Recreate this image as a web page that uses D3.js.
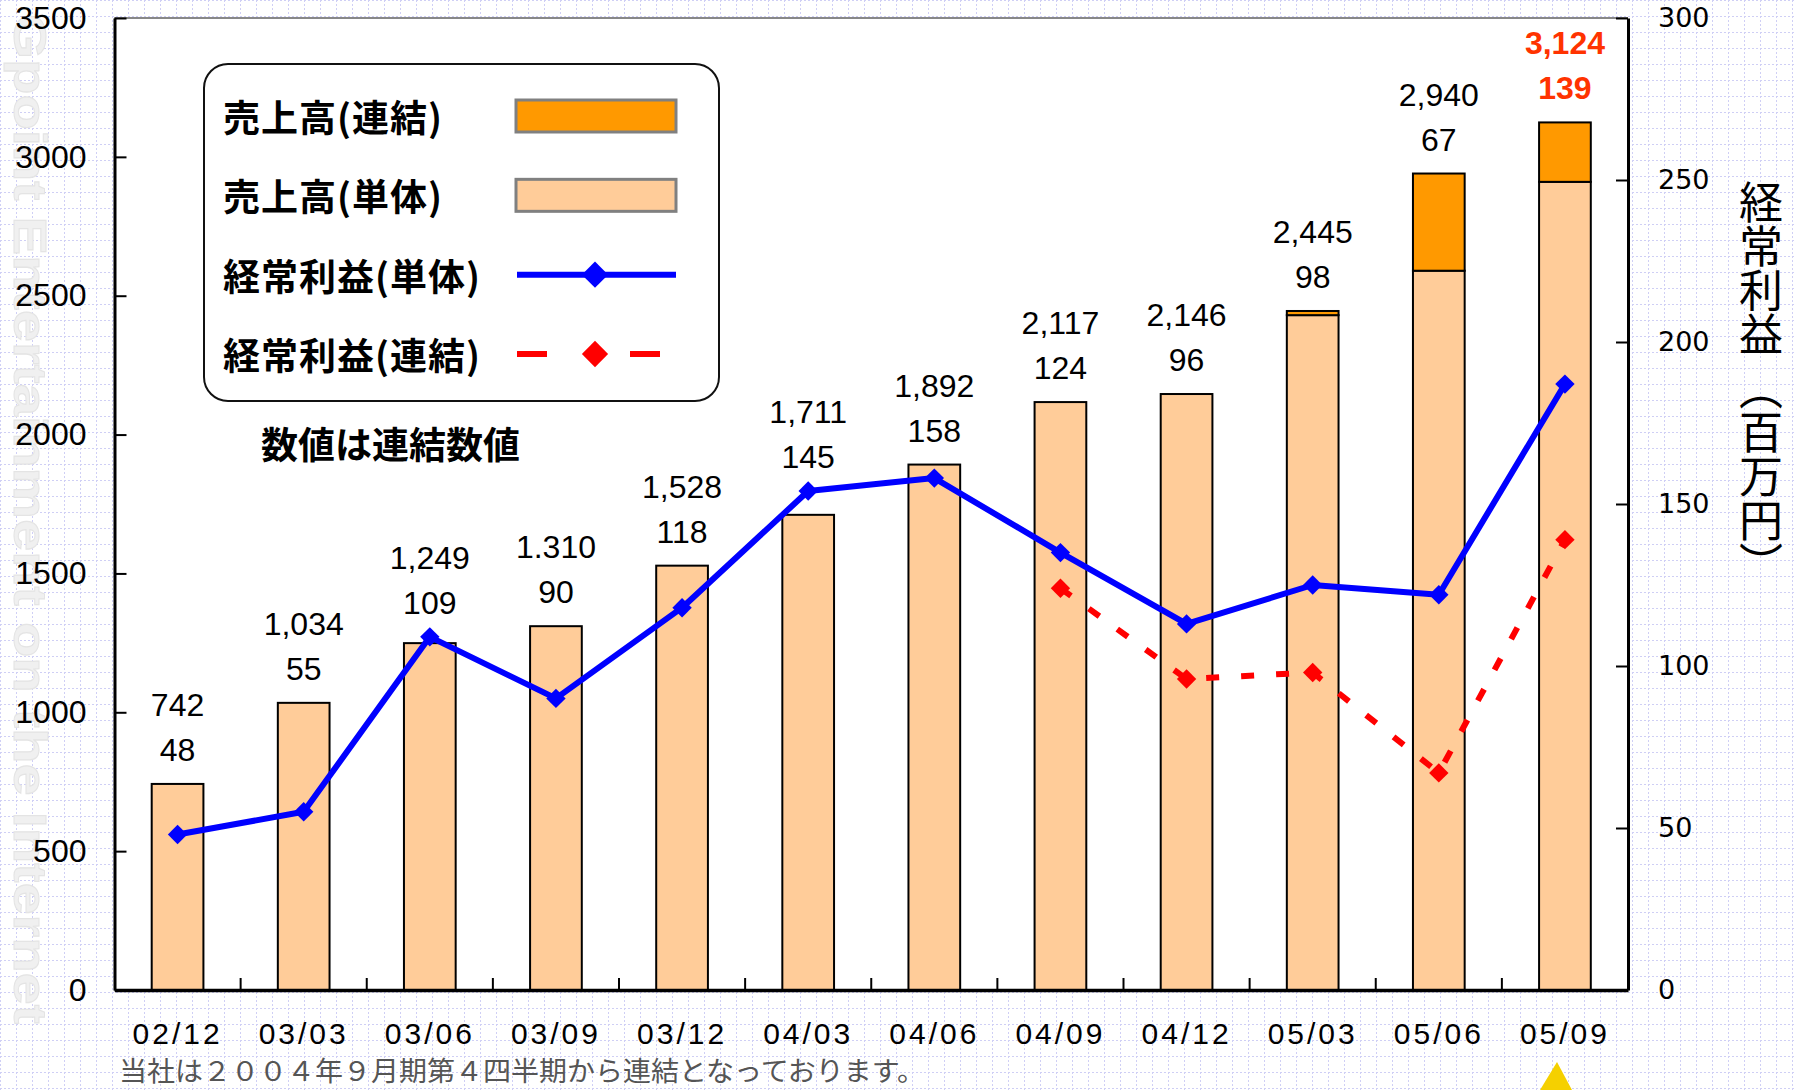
<!DOCTYPE html>
<html>
<head>
<meta charset="utf-8">
<script src="https://cdn.jsdelivr.net/npm/d3@7"></script>
<style>
  body { margin: 0; background: #fff; }
  svg { display: block; }
</style>
</head>
<body>
<svg id="chart" width="1795" height="1090"></svg>
<script>
// periods (YY/MM)
const periods = ['02/12', '03/03', '03/06', '03/09', '03/12', '04/03', '04/06', '04/09', '04/12', '05/03', '05/06', '05/09'];

// 売上高 (百万円)
const salesStandalone = [742, 1034, 1249, 1310, 1528, 1711, 1892, 2117, 2146, 2430, 2590, 2910];
const salesConsolidated = [742, 1034, 1249, 1310, 1528, 1711, 1892, 2117, 2146, 2445, 2940, 3124];

// 経常利益 (百万円)
const profitStandalone = [48, 55, 109, 90, 118, 154, 158, 135, 113, 125, 122, 187];
const profitConsolidated = [null, null, null, null, null, null, null, 124, 96, 98, 67, 139];

// labels printed above each bar
const salesLabels = ['742', '1,034', '1,249', '1.310', '1,528', '1,711', '1,892', '2,117', '2,146', '2,445', '2,940', '3,124'];
const profitLabels = ['48', '55', '109', '90', '118', '145', '158', '124', '96', '98', '67', '139'];

const leftTicks = [0, 500, 1000, 1500, 2000, 2500, 3000, 3500];
const rightTicks = [0, 50, 100, 150, 200, 250, 300];

const svg = d3.select('#chart');
const W = 1795, H = 1090;
const plot = { left: 114.5, right: 1628, top: 18, bottom: 990 };
const numFont = '"Liberation Sans", Arial, sans-serif';
const jpFont = '"Noto Sans CJK JP", sans-serif';

// background grid pattern
const defs = svg.append('defs');
const pat = defs.append('pattern')
  .attr('id', 'grid').attr('width', 16).attr('height', 16)
  .attr('patternUnits', 'userSpaceOnUse');
pat.append('rect').attr('width', 16).attr('height', 16).attr('fill', '#fff');
pat.append('path').attr('d', 'M0 0.5 H16 M0.5 0 V16')
  .attr('stroke', '#cfcff5').attr('stroke-width', 1).attr('stroke-dasharray', '2,2');
svg.append('rect').attr('width', W).attr('height', H).attr('fill', 'url(#grid)');

// faint watermark on the left
svg.append('text')
  .attr('transform', 'translate(14,14) rotate(90)')
  .attr('font-family', numFont).attr('font-weight', 'bold').attr('font-size', 46)
  .attr('textLength', 1010).attr('lengthAdjust', 'spacingAndGlyphs')
  .attr('fill', '#f0f0f0').attr('stroke', '#e4e4e4').attr('stroke-width', 1)
  .text('Gpoint Entertainment on the Internet');

// small yellow shape peeking at the bottom
svg.append('path')
  .attr('d', 'M1557,1062 L1572,1090 L1540,1090 Z')
  .attr('fill', '#F5D000');

// plot area
svg.append('rect')
  .attr('x', plot.left).attr('y', plot.top)
  .attr('width', plot.right - plot.left).attr('height', plot.bottom - plot.top)
  .attr('fill', '#fff');
svg.append('line')
  .attr('x1', plot.left).attr('x2', plot.right).attr('y1', plot.top).attr('y2', plot.top)
  .attr('stroke', '#888').attr('stroke-width', 2);

const x = d3.scaleBand().domain(periods).range([plot.left, plot.right]).padding(0);
const yL = d3.scaleLinear().domain([0, 3500]).range([plot.bottom, plot.top]);
const yR = d3.scaleLinear().domain([0, 300]).range([plot.bottom, plot.top]);
const bw = x.bandwidth() * 0.41;
const cx = p => x(p) + x.bandwidth() / 2;

// bars: standalone part, then the consolidated extra on top
const bars = svg.append('g');
bars.selectAll('.bar-base')
  .data(periods)
  .enter().append('rect')
  .attr('class', 'bar-base')
  .attr('x', p => cx(p) - bw / 2)
  .attr('width', bw)
  .attr('y', (p, i) => yL(salesStandalone[i]))
  .attr('height', (p, i) => yL(0) - yL(salesStandalone[i]))
  .attr('fill', '#FFCC99').attr('stroke', '#000').attr('stroke-width', 2);

bars.selectAll('.bar-top')
  .data(periods.filter((p, i) => salesConsolidated[i] > salesStandalone[i]))
  .enter().append('rect')
  .attr('class', 'bar-top')
  .attr('x', p => cx(p) - bw / 2)
  .attr('width', bw)
  .attr('y', p => yL(salesConsolidated[periods.indexOf(p)]))
  .attr('height', p => {
    const i = periods.indexOf(p);
    return yL(salesStandalone[i]) - yL(salesConsolidated[i]);
  })
  .attr('fill', '#FF9900').attr('stroke', '#000').attr('stroke-width', 2);

// axes
const axL = svg.append('g')
  .attr('transform', `translate(${plot.left},0)`)
  .call(d3.axisLeft(yL).tickValues(leftTicks).tickFormat(d3.format('d'))
    .tickSizeInner(-12).tickSizeOuter(0).tickPadding(28));
axL.select('.domain').attr('stroke', '#000').attr('stroke-width', 3);
axL.selectAll('.tick line').attr('stroke', '#000').attr('stroke-width', 2);
axL.selectAll('text').attr('font-family', numFont).attr('font-size', 32).attr('fill', '#000');

const axR = svg.append('g')
  .attr('transform', `translate(${plot.right},0)`)
  .call(d3.axisRight(yR).tickValues(rightTicks).tickSizeInner(-12).tickSizeOuter(0).tickPadding(30));
axR.select('.domain').attr('stroke', '#000').attr('stroke-width', 3);
axR.selectAll('.tick line').attr('stroke', '#000').attr('stroke-width', 2);
axR.selectAll('text').attr('font-family', '"DejaVu Sans", sans-serif').attr('font-size', 27).attr('fill', '#000');

const axB = svg.append('g')
  .attr('transform', `translate(0,${plot.bottom})`)
  .call(d3.axisBottom(x).tickSize(0).tickPadding(33));
axB.select('.domain').attr('stroke', '#000').attr('stroke-width', 3.5);
axB.selectAll('text').attr('font-family', numFont).attr('font-size', 30)
  .attr('letter-spacing', 3).attr('fill', '#000');

// category separator ticks
svg.append('g').selectAll('line')
  .data(periods.slice(1))
  .enter().append('line')
  .attr('x1', p => x(p)).attr('x2', p => x(p))
  .attr('y1', plot.bottom).attr('y2', plot.bottom - 12)
  .attr('stroke', '#000').attr('stroke-width', 2);

// profit lines
const diamond = d3.symbol().type(d3.symbolDiamond2);
const line = d3.line()
  .defined(d => d.v != null)
  .x(d => cx(d.p))
  .y(d => yR(d.v));

const consData = periods.map((p, i) => ({ p, v: profitConsolidated[i] }));
const soloData = periods.map((p, i) => ({ p, v: profitStandalone[i] }));

svg.append('path')
  .datum(consData)
  .attr('d', line)
  .attr('fill', 'none').attr('stroke', '#FF0000').attr('stroke-width', 6)
  .attr('stroke-dasharray', '13,22');
svg.append('g').selectAll('path')
  .data(consData.filter(d => d.v != null))
  .enter().append('path')
  .attr('d', diamond.size(240))
  .attr('transform', d => `translate(${cx(d.p)},${yR(d.v)})`)
  .attr('fill', '#FF0000');

svg.append('path')
  .datum(soloData)
  .attr('d', line)
  .attr('fill', 'none').attr('stroke', '#0000FF').attr('stroke-width', 6)
  .attr('stroke-linejoin', 'round');
svg.append('g').selectAll('path')
  .data(soloData)
  .enter().append('path')
  .attr('d', diamond.size(240))
  .attr('transform', d => `translate(${cx(d.p)},${yR(d.v)})`)
  .attr('fill', '#0000FF');

// value labels above each column
const labels = svg.append('g')
  .attr('font-family', numFont).attr('font-size', 32).attr('text-anchor', 'middle');
periods.forEach((p, i) => {
  const tops = [yL(salesConsolidated[i]), yR(profitStandalone[i])];
  if (profitConsolidated[i] != null) tops.push(yR(profitConsolidated[i]));
  const anchor = d3.min(tops) - 34;
  const last = i === periods.length - 1;
  const col = last ? '#FF3300' : '#000';
  labels.append('text').attr('x', cx(p)).attr('y', anchor - 45)
    .attr('dominant-baseline', 'central').attr('fill', col)
    .attr('font-weight', last ? 'bold' : null).text(salesLabels[i]);
  labels.append('text').attr('x', cx(p)).attr('y', anchor)
    .attr('dominant-baseline', 'central').attr('fill', col)
    .attr('font-weight', last ? 'bold' : null).text(profitLabels[i]);
});

// legend
const lg = svg.append('g');
lg.append('rect')
  .attr('x', 204).attr('y', 64).attr('width', 515).attr('height', 337).attr('rx', 24)
  .attr('fill', '#fff').attr('stroke', '#111').attr('stroke-width', 2);

const legendItems = [
  { name: '売上高(連結)', kind: 'bar', color: '#FF9900' },
  { name: '売上高(単体)', kind: 'bar', color: '#FFCC99' },
  { name: '経常利益(単体)', kind: 'line', color: '#0000FF' },
  { name: '経常利益(連結)', kind: 'dash', color: '#FF0000' }
];
const rowY = d3.scalePoint().domain(legendItems.map(d => d.name)).range([116, 354]);

legendItems.forEach(d => {
  const yy = rowY(d.name);
  lg.append('text')
    .attr('x', 223).attr('y', yy).attr('dominant-baseline', 'central')
    .attr('font-family', jpFont).attr('font-weight', 'bold').attr('font-size', 37)
    .attr('letter-spacing', 1).attr('fill', '#000').text(d.name);
  if (d.kind === 'bar') {
    lg.append('rect')
      .attr('x', 516).attr('y', yy - 16).attr('width', 160).attr('height', 32)
      .attr('fill', d.color).attr('stroke', '#808080').attr('stroke-width', 3);
  } else {
    lg.append('line')
      .attr('x1', 517).attr('x2', d.kind === 'line' ? 676 : 660)
      .attr('y1', yy).attr('y2', yy)
      .attr('stroke', d.color).attr('stroke-width', 6)
      .attr('stroke-dasharray', d.kind === 'dash' ? '30,83' : null);
    lg.append('path')
      .attr('d', d3.symbol().type(d3.symbolDiamond2).size(440)())
      .attr('transform', `translate(595,${yy})`)
      .attr('fill', d.color);
  }
});

// note inside plot
svg.append('text')
  .attr('x', 261).attr('y', 443).attr('dominant-baseline', 'central')
  .attr('font-family', jpFont).attr('font-weight', 'bold').attr('font-size', 37)
  .attr('fill', '#000').text('数値は連結数値');

// right axis title (vertical)
svg.append('text')
  .attr('x', 1761).attr('y', 180)
  .style('writing-mode', 'vertical-rl')
  .attr('font-family', jpFont).attr('font-size', 44).attr('fill', '#000')
  .text('経常利益 （百万円）');

// footnote
svg.append('text')
  .attr('x', 119).attr('y', 1069).attr('dominant-baseline', 'central')
  .attr('font-family', jpFont).attr('font-size', 27).attr('fill', '#555')
  .attr('textLength', 806).attr('lengthAdjust', 'spacingAndGlyphs')
  .text('当社は２００４年９月期第４四半期から連結となっております。');
</script>
</body>
</html>
